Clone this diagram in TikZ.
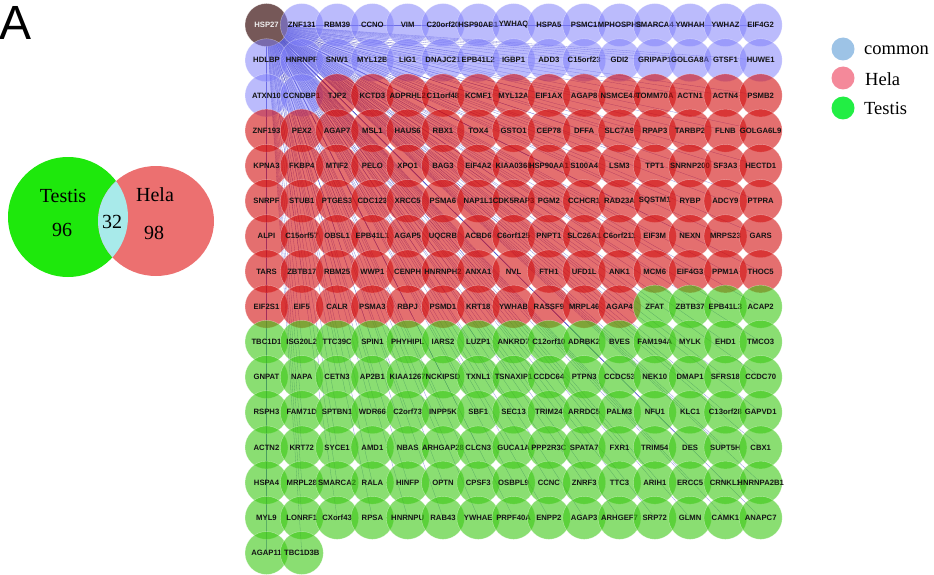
\documentclass[tikz,border=0pt]{standalone}
\usepackage{fontspec}
\setmainfont{Liberation Serif}
\newfontfamily\arialf{Liberation Sans}
\usetikzlibrary{backgrounds}
\definecolor{cblue}{RGB}{125,125,250}
\definecolor{cred}{RGB}{210,15,15}
\definecolor{cgreen}{RGB}{60,200,20}
\definecolor{chsp}{RGB}{118,88,88}
\definecolor{edgec}{RGB}{90,90,205}
\definecolor{vgreen}{RGB}{30,232,12}
\definecolor{vred}{RGB}{236,112,112}
\definecolor{vcyan}{RGB}{168,234,234}
\definecolor{lgblue}{RGB}{157,195,230}
\definecolor{lgpink}{RGB}{244,137,154}
\definecolor{lggreen}{RGB}{34,238,68}
\tikzset{
  gene/.style={circle, minimum size=43pt, inner sep=0pt, fill opacity=0.6,
    text opacity=1, draw=white, draw opacity=0.45, line width=0.4pt,
    font=\arialf\bfseries\fontsize{7.7}{8}\selectfont, text=black!92},
  hspnode/.style={gene, fill=chsp, fill opacity=1, text=white!88!gray},
  commonnode/.style={gene, fill=cblue, fill opacity=0.52},
  helanode/.style={gene, fill=cred},
  testisnode/.style={gene, fill=cgreen},
  edge/.style={draw=edgec, draw opacity=0.7, line width=0.3pt},
  venntext/.style={font=\fontsize{20}{22}\selectfont, anchor=base, inner sep=0pt},
  legdot/.style={circle, minimum size=23pt, inner sep=0pt},
  legtext/.style={font=\fontsize{18.5}{20}\selectfont, anchor=base west, inner sep=0pt},
}
\begin{document}
\begin{tikzpicture}[x=1pt,y=-1pt]
\useasboundingbox (0,0) rectangle (934,575);
\node[font=\arialf\fontsize{48}{50}\selectfont, anchor=base west, inner sep=0pt] (lblA) at (-1,40) {A};
% Venn diagram
\fill[vgreen] (68,217) circle [radius=60pt];
\fill[vred] (156,221) ellipse [x radius=58pt, y radius=55pt];
\begin{scope}
  \clip (68,217) circle [radius=60pt];
  \fill[vcyan] (156,221) ellipse [x radius=58pt, y radius=55pt];
\end{scope}
\node[venntext] (vt) at (63,202.7) {Testis};
\node[venntext] (v96) at (62,236.7) {96};
\node[venntext] (vh) at (155,201.7) {Hela};
\node[venntext] (v98) at (154,239) {98};
\node[venntext] (v32) at (112,228.3) {32};
% legend
\node[legdot, fill=lgblue] (lc) at (843,49) {};
\node[legdot, fill=lgpink] (lh) at (843,78) {};
\node[legdot, fill=lggreen] (lt) at (843,108) {};
\node[legtext] (lct) at (864,55) {common};
\node[legtext] (lht) at (865,85.5) {Hela};
\node[legtext] (ltt) at (864,115) {Testis};
% network
\foreach \row [count=\j from 0] in {
 {HSP27,ZNF131,RBM39,CCNO,VIM,C20orf20,HSP90AB1,YWHAQ,HSPA5,PSMC1,MPHOSPH8,SMARCA4,YWHAH,YWHAZ,EIF4G2},
 {HDLBP,HNRNPF,SNW1,MYL12B,LIG1,DNAJC21,EPB41L2,IGBP1,ADD3,C15orf23,GDI2,GRIPAP1,GOLGA8A,GTSF1,HUWE1},
 {ATXN10,CCNDBP1,TJP2,KCTD3,ADPRHL2,C11orf48,KCMF1,MYL12A,EIF1AX,AGAP8,NSMCE4A,TOMM70A,ACTN1,ACTN4,PSMB2},
 {ZNF193,PEX2,AGAP7,MSL1,HAUS6,RBX1,TOX4,GSTO1,CEP78,DFFA,SLC7A9,RPAP3,TARBP2,FLNB,GOLGA6L9},
 {KPNA3,FKBP4,MTIF2,PELO,XPO1,BAG3,EIF4A2,KIAA0368,HSP90AA1,S100A4,LSM3,TPT1,SNRNP200,SF3A3,HECTD1},
 {SNRPF,STUB1,PTGES3,CDC123,XRCC5,PSMA6,NAP1L1,CDK5RAP3,PGM2,CCHCR1,RAD23A,SQSTM1,RYBP,ADCY9,PTPRA},
 {ALPI,C15orf57,OBSL1,EPB41L1,AGAP5,UQCRB,ACBD6,C6orf125,PNPT1,SLC26A1,C6orf211,EIF3M,NEXN,MRPS23,GARS},
 {TARS,ZBTB17,RBM25,WWP1,CENPH,HNRNPH2,ANXA1,NVL,FTH1,UFD1L,ANK1,MCM6,EIF4G3,PPM1A,THOC5},
 {EIF2S1,EIF5,CALR,PSMA3,RBPJ,PSMD1,KRT18,YWHAB,RASSF9,MRPL46,AGAP4,ZFAT,ZBTB37,EPB41L3,ACAP2},
 {TBC1D1,ISG20L2,TTC39C,SPIN1,PHYHIPL,IARS2,LUZP1,ANKRD7,C12orf10,ADRBK2,BVES,FAM194A,MYLK,EHD1,TMCO3},
 {GNPAT,NAPA,CETN3,AP2B1,KIAA1267,NCKIPSD,TXNL1,TSNAXIP1,CCDC64,PTPN3,CCDC53,NEK10,DMAP1,SFRS18,CCDC70},
 {RSPH3,FAM71D,SPTBN1,WDR66,C2orf73,INPP5K,SBF1,SEC13,TRIM24,ARRDC5,PALM3,NFU1,KLC1,C13orf28,GAPVD1},
 {ACTN2,KRT72,SYCE1,AMD1,NBAS,ARHGAP28,CLCN3,GUCA1A,PPP2R3C,SPATA7,FXR1,TRIM54,DES,SUPT5H,CBX1},
 {HSPA4,MRPL28,SMARCA2,RALA,HINFP,OPTN,CPSF3,OSBPL9,CCNC,ZNRF3,TTC3,ARIH1,ERCC5,CRNKL1,HNRNPA2B1},
 {MYL9,LONRF1,CXorf43,RPSA,HNRNPU,RAB43,YWHAE,PRPF40A,ENPP2,AGAP3,ARHGEF7,SRP72,GLMN,CAMK1,ANAPC7},
 {AGAP11,TBC1D3B}} {
  \foreach \g [count=\i from 0] in \row {
    \pgfmathtruncatemacro\idx{\j*15+\i}
    \ifnum\idx=0 \tikzset{cur/.style={hspnode}}\else
      \ifnum\idx<32 \tikzset{cur/.style={commonnode}}\else
        \ifnum\idx<131 \tikzset{cur/.style={helanode}}\else
          \tikzset{cur/.style={testisnode}}\fi\fi\fi
    \node[cur] (n-\j-\i) at ({266.5+35.3*\i},{25+35.2*\j}) {\makebox[0pt]{\g}};
    \ifnum\idx>0
      \begin{pgfonlayer}{background}
        \draw[edge] (n-0-0.center) -- (n-\j-\i.center);
      \end{pgfonlayer}
    \fi
  }
}
\end{tikzpicture}
\end{document}
